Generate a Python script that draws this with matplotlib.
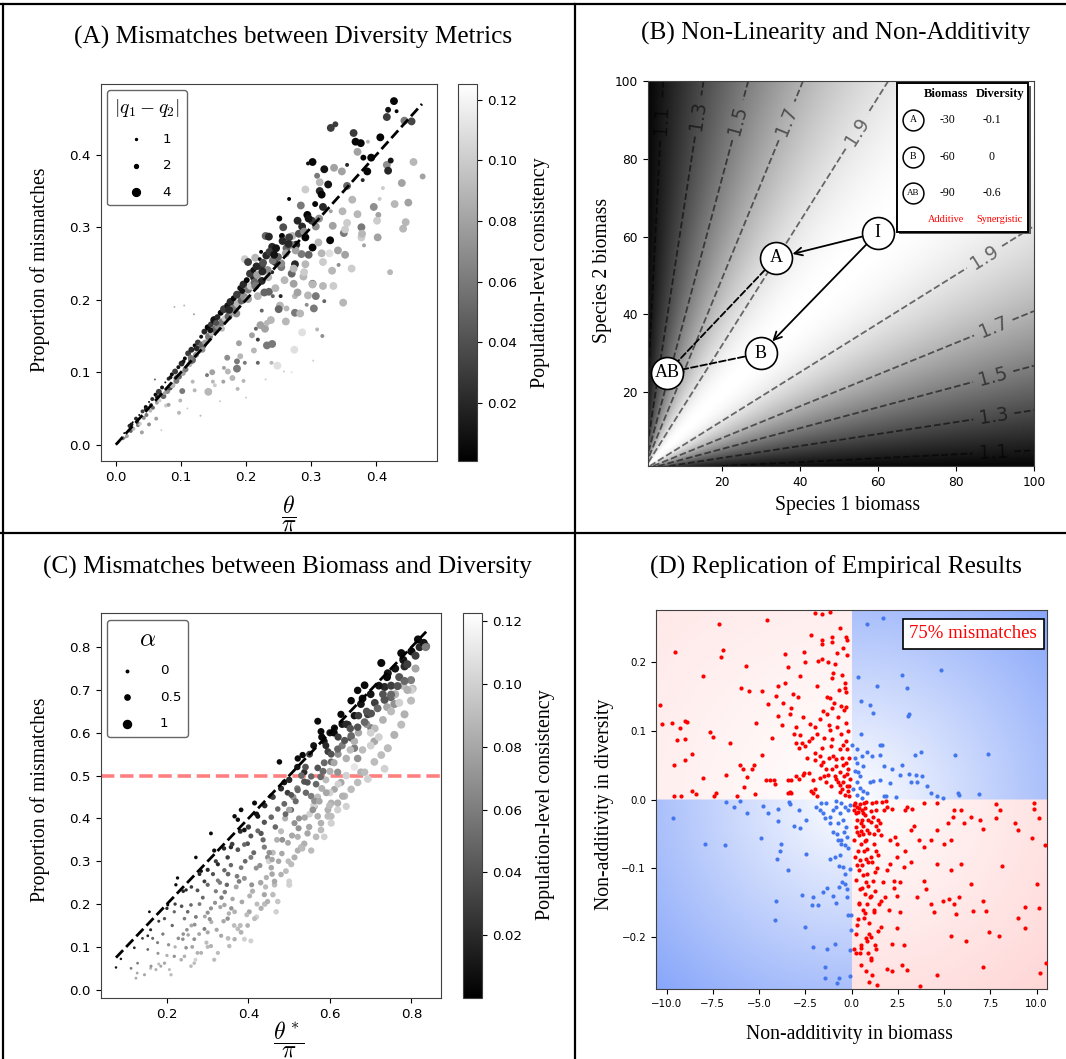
import numpy as np
import matplotlib.pyplot as plt
from matplotlib.colors import Normalize
from matplotlib.lines import Line2D
from matplotlib.patches import Rectangle

plt.rcParams['font.family'] = 'DejaVu Sans'
plt.rcParams['mathtext.fontset'] = 'cm'
plt.rcParams['axes.edgecolor'] = '0.25'
SERIF = 'Liberation Serif'

# ---------------- Panel A data: theta/pi vs proportion of mismatches ----------------
a_x = [0.427,0.418,0.431,0.416,0.443,0.454,0.330,0.337,0.365,0.368,
       0.376,0.387,0.406,0.371,0.380,0.392,0.416,0.422,0.418,0.457,
       0.471,0.386,0.302,0.295,0.320,0.335,0.347,0.355,0.379,0.309,
       0.326,0.313,0.291,0.313,0.316,0.355,0.363,0.410,0.405,0.396,
       0.449,0.348,0.403,0.445,0.441,0.266,0.284,0.306,0.294,0.251,
       0.279,0.312,0.330,0.257,0.355,0.350,0.329,0.352,0.377,0.377,
       0.381,0.402,0.230,0.235,0.255,0.271,0.277,0.291,0.302,0.316,
       0.328,0.352,0.296,0.285,0.262,0.240,0.223,0.214,0.198,0.203,
       0.224,0.245,0.254,0.275,0.291,0.270,0.240,0.259,0.273,0.288,
       0.302,0.318,0.334,0.342,0.421,0.349,0.307,0.320,0.295,0.275,
       0.293,0.304,0.275,0.283,0.252,0.253,0.235,0.245,0.224,0.212,
       0.218,0.228,0.241,0.224,0.238,0.250,0.222,0.215,0.218,0.240,
       0.232,0.286,0.309,0.317,0.274,0.303,0.248,0.239,0.258,0.218,
       0.198,0.186,0.186,0.196,0.179,0.166,0.187,0.142,0.149,0.165,
       0.140,0.118,0.099,0.097,0.102,0.077,0.062,0.040,0.051,0.090,
       0.004,0.011,0.013,0.017,0.021,0.023,0.026,0.027,0.031,0.034,
       0.036,0.037,0.041,0.043,0.046,0.047,0.051,0.053,0.056,0.057,
       0.061,0.063,0.066,0.067,0.071,0.073,0.076,0.079,0.081,0.083,
       0.086,0.087,0.091,0.093,0.096,0.097,0.101,0.103,0.106,0.107,
       0.111,0.113,0.116,0.117,0.121,0.123,0.126,0.127,0.131,0.133,
       0.136,0.137,0.141,0.143,0.146,0.147,0.151,0.153,0.156,0.157,
       0.161,0.163,0.166,0.167,0.171,0.173,0.176,0.177,0.181,0.183,
       0.186,0.187,0.191,0.193,0.196,0.197,0.201,0.203,0.206,0.207,
       0.211,0.213,0.216,0.217,0.221,0.226,0.231,0.233,0.236,0.241,
       0.246,0.249,0.256,0.261,0.266,0.269,0.281,0.286,0.289,0.301,
       0.070,0.110,0.130,0.160,0.200,0.230,0.270,0.105,0.120,0.060,
       0.015,0.024,0.033,0.046,0.054,0.063,0.075,0.084,0.093,0.104,
       0.115,0.124,0.133,0.145,0.154,0.163,0.174,0.185,0.194,0.203,
       0.214,0.225,0.234,0.243,0.254,0.265,0.276,0.296,0.307,0.318,
       0.081,0.121,0.148,0.171,0.189,0.212,0.229,0.261,0.279,0.332,
       0.302,0.318,0.341,0.362,0.378,0.401,0.428,0.439,0.371,0.352,
       0.262,0.273,0.289,0.311,0.333,0.232,0.209,0.191,0.172,0.152]
a_y = [0.474,0.462,0.460,0.452,0.447,0.446,0.437,0.442,0.430,0.418,
       0.416,0.418,0.424,0.404,0.396,0.396,0.386,0.392,0.378,0.390,
       0.370,0.377,0.390,0.388,0.380,0.382,0.377,0.386,0.365,0.371,
       0.359,0.362,0.352,0.350,0.345,0.357,0.338,0.354,0.339,0.328,
       0.334,0.322,0.317,0.307,0.298,0.339,0.330,0.332,0.317,0.312,
       0.309,0.312,0.322,0.300,0.306,0.292,0.282,0.295,0.300,0.286,
       0.275,0.286,0.288,0.287,0.288,0.288,0.276,0.286,0.272,0.264,
       0.264,0.262,0.262,0.263,0.271,0.273,0.266,0.258,0.256,0.252,
       0.247,0.252,0.245,0.249,0.249,0.236,0.238,0.227,0.243,0.232,
       0.222,0.219,0.219,0.248,0.238,0.196,0.205,0.198,0.206,0.205,
       0.193,0.188,0.182,0.181,0.192,0.205,0.211,0.216,0.226,0.231,
       0.205,0.210,0.205,0.185,0.172,0.187,0.165,0.160,0.145,0.139,
       0.137,0.155,0.159,0.150,0.131,0.116,0.109,0.113,0.101,0.113,
       0.113,0.115,0.105,0.088,0.092,0.106,0.077,0.073,0.087,0.087,
       0.096,0.087,0.061,0.044,0.074,0.054,0.036,0.017,0.028,0.190,
       0.003,0.009,0.016,0.012,0.026,0.019,0.031,0.022,0.036,0.027,
       0.041,0.029,0.046,0.037,0.052,0.041,0.059,0.047,0.063,0.051,
       0.069,0.058,0.073,0.061,0.079,0.067,0.086,0.074,0.091,0.079,
       0.097,0.082,0.101,0.088,0.107,0.094,0.112,0.099,0.119,0.104,
       0.126,0.111,0.131,0.117,0.137,0.124,0.141,0.129,0.149,0.137,
       0.156,0.141,0.162,0.149,0.166,0.154,0.172,0.159,0.176,0.164,
       0.182,0.169,0.187,0.174,0.192,0.177,0.197,0.184,0.202,0.189,
       0.207,0.194,0.216,0.199,0.221,0.204,0.227,0.214,0.236,0.219,
       0.241,0.224,0.246,0.234,0.256,0.251,0.261,0.241,0.266,0.254,
       0.271,0.259,0.281,0.264,0.286,0.276,0.291,0.301,0.294,0.309,
       0.020,0.050,0.040,0.060,0.065,0.090,0.100,0.192,0.180,0.090,
       0.010,0.028,0.031,0.049,0.055,0.066,0.071,0.093,0.092,0.115,
       0.120,0.133,0.131,0.158,0.168,0.160,0.186,0.181,0.212,0.201,
       0.219,0.239,0.231,0.262,0.250,0.277,0.268,0.312,0.301,0.328,
       0.055,0.075,0.100,0.120,0.140,0.130,0.160,0.170,0.210,0.240,
       0.221,0.252,0.268,0.243,0.291,0.309,0.332,0.361,0.318,0.297,
       0.188,0.222,0.238,0.279,0.302,0.168,0.151,0.122,0.101,0.082]
a_cons = [.004,.010,.004,.030,.060,.035,.030,.030,.030,.004,
          .004,.090,.004,.080,.004,.004,.070,.010,.020,.090,
          .080,.004,.004,.010,.010,.080,.080,.020,.020,.060,
          .010,.090,.100,.020,.004,.050,.090,.100,.100,.070,
          .080,.090,.080,.090,.090,.004,.060,.004,.004,.004,
          .020,.070,.080,.040,.100,.060,.004,.020,.060,.100,
          .080,.080,.050,.020,.004,.090,.020,.004,.004,.090,
          .110,.080,.050,.060,.050,.020,.004,.090,.100,.030,
          .030,.020,.060,.020,.090,.050,.020,.090,.090,.090,
          .060,.090,.100,.070,.090,.090,.060,.050,.090,.090,
          .070,.060,.060,.090,.090,.020,.050,.090,.020,.020,
          .090,.050,.050,.050,.090,.050,.080,.050,.030,.060,
          .060,.110,.090,.070,.110,.100,.110,.090,.100,.050,
          .060,.060,.060,.090,.090,.080,.090,.090,.090,.080,
          .060,.090,.090,.090,.060,.100,.080,.080,.070,.090,
          .030,.060,.004,.080,.020,.050,.004,.090,.020,.060,
          .004,.100,.030,.070,.004,.060,.010,.090,.020,.050,
          .004,.080,.030,.100,.010,.050,.004,.070,.020,.040,
          .004,.090,.030,.060,.010,.050,.020,.080,.004,.060,
          .030,.090,.020,.050,.004,.070,.030,.100,.010,.050,
          .020,.080,.004,.060,.030,.090,.010,.050,.020,.070,
          .004,.060,.030,.100,.010,.050,.020,.080,.004,.060,
          .030,.090,.010,.050,.020,.070,.004,.060,.030,.100,
          .010,.050,.020,.080,.004,.040,.020,.070,.030,.060,
          .010,.050,.020,.080,.030,.060,.040,.020,.070,.030,
          .100,.100,.090,.100,.100,.100,.110,.090,.080,.050,
          .070,.010,.050,.020,.060,.020,.080,.010,.060,.010,
          .060,.020,.070,.010,.040,.090,.020,.070,.010,.080,
          .060,.020,.090,.010,.070,.020,.080,.010,.070,.020,
          .080,.090,.080,.070,.080,.090,.080,.090,.080,.090,
          .090,.100,.080,.100,.090,.100,.090,.080,.090,.100,
          .090,.080,.100,.090,.080,.090,.080,.090,.090,.100]
a_q = [4,3,2,4,4,4,4,3,4,4,
       4,2,4,4,3,4,4,3,4,4,
       3,4,4,2,4,4,4,2,2,3,
       4,4,4,4,4,4,4,2,2,4,
       4,4,3,4,4,2,4,3,4,3,
       4,4,2,4,4,4,4,2,4,4,
       2,4,4,4,3,4,4,4,4,4,
       4,4,4,4,4,4,2,4,4,4,
       4,4,4,4,4,4,2,4,4,4,
       4,4,4,2,3,4,4,2,4,3,
       2,4,4,4,4,2,4,4,4,4,
       4,4,2,2,4,4,4,2,2,4,
       4,4,2,2,4,1,4,2,1,2,
       2,3,4,2,3,2,2,4,2,2,
       2,2,2,2,3,2,2,2,2,1,
       1,2,1,2,2,2,1,2,2,2,
       1,2,2,2,2,2,1,2,2,2,
       2,2,3,2,2,3,1,3,2,3,
       2,3,3,3,2,3,3,3,2,3,
       3,3,3,4,2,3,3,3,2,4,
       3,3,3,4,3,3,4,4,3,4,
       3,4,4,3,3,4,4,4,3,4,
       4,4,3,4,4,4,3,4,4,4,
       3,4,4,4,2,4,4,4,4,4,
       4,4,4,4,4,4,4,4,4,4,
       1,1,1,1,1,1,1,1,1,1,
       1,2,2,2,2,2,2,2,3,2,
       3,3,3,3,3,3,4,4,3,4,
       4,4,4,4,4,4,4,4,4,4,
       2,2,3,3,3,3,4,4,4,4,
       4,4,4,4,4,4,4,4,4,4,
       3,4,4,4,4,3,3,3,3,2]
a_legend_q = [1, 2, 4]

# ---------------- Panel B: species biomass plane ----------------
b_levels = [1.1, 1.3, 1.5, 1.7, 1.9]
b_label_pos = [(4.4, 90), (14, 91), (24, 90), (36, 90), (54, 87.5),
               (87.5, 54.4), (89.4, 37), (89.4, 24.5), (89.6, 14.6), (89.6, 5)]
b_names = ['I', 'A', 'B', 'AB']
b_s1 = [60, 34, 30, 6]
b_s2 = [61, 54.5, 30, 25]
b_table_rows = ['A', 'B', 'AB']
b_table_biomass = ['-30', '-60', '-90']
b_table_diversity = ['-0.1', '0', '-0.6']

# ---------------- Panel C data: theta*/pi vs proportion of mismatches ----------------
c_x = [0.075,0.087,0.120,0.128,0.127,0.153,0.157,0.153,0.177,0.185,
       0.206,0.202,0.226,0.222,0.247,0.251,0.239,0.243,0.267,0.275,
       0.271,0.284,0.292,0.316,0.308,0.325,0.320,0.308,0.300,0.325,
       0.341,0.349,0.357,0.366,0.374,0.382,0.390,0.398,0.406,0.382,
       0.366,0.374,0.390,0.406,0.415,0.423,0.431,0.439,0.447,0.456,
       0.464,0.472,0.468,0.476,0.456,0.488,0.496,0.505,0.513,0.521,
       0.529,0.505,0.500,0.521,0.533,0.537,0.545,0.554,0.562,0.570,
       0.578,0.586,0.595,0.603,0.611,0.570,0.578,0.586,0.595,0.603,
       0.619,0.627,0.636,0.619,0.603,0.611,0.627,0.644,0.652,0.660,
       0.668,0.676,0.652,0.668,0.685,0.676,0.693,0.701,0.709,0.726,
       0.734,0.742,0.750,0.758,0.775,0.783,0.799,0.803,0.816,0.836,
       0.56,0.58,0.59,0.60,0.61,0.62,0.63,0.64,0.65,0.66,
       0.67,0.68,0.69,0.70,0.71,0.72,0.73,0.74,0.75,0.76,
       0.77,0.78,0.79,0.80,0.81,0.82,0.83,0.835,0.81,0.80,
       0.78,0.76,0.74,0.73,0.71,0.70,0.69,0.67,0.66,0.65,
       0.64,0.63,0.62,0.61,0.60,0.59,0.58,0.57,0.56,0.55,
       0.60,0.62,0.64,0.66,0.68,0.70,0.72,0.75,0.77,0.55,
       0.54,0.53,0.52,0.51,0.50,0.49,0.48,0.47,0.46,0.45,
       0.52,0.50,0.48,0.46,0.44,0.42,0.40,0.38,0.36,0.34,
       0.32,0.30,0.28,0.26,0.24,0.22,0.20,0.18,0.16,0.14,
       0.33,0.35,0.37,0.39,0.41,0.43,0.44,0.42,0.38,0.35,
       0.28,0.30,0.26,0.24,0.22,0.20,0.18,0.16,0.30,0.27,
       0.112,0.124,0.145,0.161,0.173,0.194,0.210,0.218,0.235,0.247,
       0.259,0.267,0.284,0.292,0.308,0.316,0.333,0.349,0.353,0.366,
       0.382,0.398,0.402,0.415,0.431,0.439,0.447,0.460,0.464,0.480,
       0.492,0.500,0.513,0.521,0.537,0.545,0.554,0.566,0.578,0.595,
       0.603,0.619,0.631,0.640,0.652,0.668,0.685,0.693,0.709,0.726,
       0.734,0.742,0.758,0.775,0.783,0.799,0.790,
       0.194,0.218,0.243,0.259,0.275,0.300,0.325,0.341,0.357,0.374,
       0.390,0.406,0.423,0.439,0.456,0.472,0.488,0.505,0.521,0.537,
       0.554,0.570,0.586,0.603,0.619,0.636,0.652,0.668,0.685,0.701,
       0.717,0.734,0.750,0.766,0.783,
       0.318,0.342,0.361,0.377,0.403,0.419,0.444,0.458,0.482,0.497,
       0.523,0.538,0.562,0.577,0.252,0.268,0.293,0.309,0.331,0.352,
       0.165,0.178,0.190,0.204,0.213,0.228,0.236,0.249,0.262,0.271,
       0.279,0.288,0.297,0.305,0.313,0.322,0.334,0.339,0.347,0.358,
       0.365,0.372,0.384,0.392,0.396,0.408,0.413,0.421,0.428,0.436,
       0.442,0.451,0.458,0.466,0.474,0.483,0.491,0.498,0.507,0.516,
       0.524,0.532,0.541,0.549,0.558,0.566,0.574,0.583,0.591,0.599]
c_y = [0.052,0.072,0.098,0.062,0.039,0.126,0.182,0.094,0.110,0.055,
       0.047,0.198,0.261,0.245,0.233,0.182,0.118,0.078,0.062,0.086,
       0.309,0.277,0.253,0.325,0.365,0.293,0.230,0.190,0.134,0.086,
       0.198,0.309,0.333,0.405,0.397,0.420,0.373,0.341,0.309,0.285,
       0.182,0.142,0.118,0.114,0.436,0.405,0.365,0.333,0.309,0.285,
       0.245,0.206,0.182,0.532,0.452,0.484,0.460,0.420,0.389,0.357,
       0.333,0.293,0.245,0.540,0.548,0.508,0.484,0.452,0.428,0.405,
       0.373,0.357,0.405,0.436,0.468,0.627,0.603,0.580,0.556,0.532,
       0.508,0.484,0.452,0.420,0.389,0.611,0.643,0.619,0.588,0.564,
       0.540,0.508,0.675,0.699,0.711,0.667,0.643,0.611,0.580,0.763,
       0.707,0.739,0.683,0.667,0.786,0.755,0.723,0.703,0.818,0.802,
       0.57,0.59,0.57,0.60,0.60,0.59,0.62,0.62,0.61,0.64,
       0.64,0.68,0.65,0.69,0.67,0.71,0.69,0.73,0.71,0.75,
       0.73,0.77,0.76,0.79,0.78,0.80,0.81,0.80,0.75,0.70,
       0.71,0.69,0.66,0.63,0.61,0.60,0.62,0.60,0.58,0.56,
       0.54,0.57,0.55,0.53,0.51,0.49,0.47,0.45,0.43,0.41,
       0.46,0.48,0.50,0.52,0.56,0.57,0.59,0.65,0.67,0.55,
       0.52,0.50,0.47,0.45,0.42,0.40,0.37,0.35,0.32,0.30,
       0.52,0.49,0.47,0.45,0.43,0.41,0.38,0.37,0.34,0.33,
       0.30,0.28,0.27,0.24,0.23,0.20,0.19,0.16,0.14,0.12,
       0.25,0.27,0.24,0.26,0.23,0.25,0.20,0.17,0.15,0.12,
       0.20,0.18,0.15,0.13,0.10,0.08,0.06,0.05,0.10,0.07,
       0.050,0.027,0.035,0.055,0.047,0.062,0.035,0.078,0.070,0.098,
       0.055,0.118,0.086,0.142,0.102,0.070,0.126,0.166,0.102,0.118,
       0.134,0.150,0.182,0.166,0.190,0.222,0.206,0.222,0.253,0.269,
       0.277,0.253,0.309,0.325,0.341,0.365,0.325,0.357,0.389,0.420,
       0.405,0.436,0.452,0.428,0.468,0.484,0.508,0.492,0.532,0.548,
       0.516,0.564,0.595,0.619,0.643,0.675,0.700,
       0.166,0.182,0.166,0.198,0.232,0.245,0.255,0.279,0.291,0.327,
       0.339,0.359,0.371,0.391,0.403,0.422,0.434,0.455,0.466,0.486,
       0.498,0.518,0.530,0.550,0.562,0.582,0.593,0.613,0.625,0.645,
       0.657,0.677,0.689,0.709,0.721,
       0.203,0.228,0.212,0.253,0.219,0.284,0.262,0.304,0.318,0.343,
       0.377,0.402,0.441,0.497,0.128,0.152,0.171,0.158,0.193,0.178,
       0.120,0.085,0.130,0.105,0.150,0.120,0.195,0.140,0.100,0.170,
       0.130,0.215,0.110,0.165,0.270,0.140,0.215,0.160,0.245,0.190,
       0.150,0.265,0.205,0.300,0.175,0.245,0.320,0.200,0.290,0.350,
       0.240,0.320,0.270,0.380,0.300,0.350,0.410,0.300,0.360,0.440,
       0.400,0.330,0.460,0.380,0.420,0.480,0.440,0.510,0.460,0.430]
c_cons = [.01,.01,.02,.06,.08,.02,.005,.05,.06,.08,
          .09,.005,.005,.005,.02,.05,.07,.085,.09,.085,
          .005,.01,.03,.005,.005,.02,.06,.07,.08,.09,
          .08,.03,.02,.005,.005,.005,.01,.04,.06,.06,
          .085,.09,.10,.10,.005,.01,.04,.06,.07,.08,
          .09,.095,.10,.005,.01,.01,.03,.05,.07,.085,
          .09,.09,.10,.005,.005,.02,.04,.06,.08,.085,
          .09,.10,.09,.085,.08,.005,.005,.01,.03,.05,
          .07,.08,.09,.10,.10,.01,.005,.02,.04,.06,
          .07,.085,.005,.005,.005,.01,.03,.06,.08,.005,
          .02,.01,.05,.07,.005,.02,.06,.09,.005,.05,
          .01,.005,.02,.01,.005,.03,.01,.02,.04,.01,
          .03,.005,.04,.01,.03,.01,.04,.005,.03,.01,
          .04,.01,.03,.005,.03,.02,.01,.06,.08,.10,
          .09,.085,.08,.085,.09,.10,.07,.08,.085,.09,
          .085,.06,.07,.08,.085,.09,.085,.09,.10,.10,
          .10,.10,.10,.11,.09,.10,.10,.09,.10,.03,
          .04,.05,.06,.07,.08,.085,.09,.085,.09,.10,
          .01,.02,.02,.03,.02,.01,.03,.02,.03,.02,
          .03,.02,.02,.03,.02,.03,.02,.03,.02,.03,
          .06,.05,.08,.07,.085,.08,.09,.10,.09,.09,
          .06,.07,.08,.07,.085,.085,.09,.09,.09,.10,
          .06,.08,.08,.07,.085,.08,.09,.07,.085,.07,
          .09,.07,.085,.06,.085,.09,.08,.07,.09,.085,
          .085,.085,.08,.09,.085,.08,.085,.09,.08,.085,
          .09,.10,.085,.085,.085,.08,.09,.09,.085,.085,
          .09,.085,.085,.10,.09,.09,.09,.10,.09,.09,
          .10,.09,.085,.09,.085,.09,.085,
          .04,.05,.06,.05,.04,.05,.06,.05,.05,.04,
          .05,.04,.05,.04,.05,.05,.05,.04,.05,.04,
          .05,.04,.05,.04,.05,.04,.05,.04,.05,.04,
          .05,.04,.05,.04,.05,
          .07,.06,.08,.06,.085,.07,.085,.08,.08,.08,
          .07,.08,.07,.05,.08,.07,.08,.085,.08,.085,
          .05,.07,.06,.07,.05,.07,.04,.07,.08,.06,
          .08,.05,.09,.07,.04,.08,.06,.08,.05,.07,
          .09,.06,.08,.05,.09,.07,.05,.09,.07,.05,
          .09,.07,.08,.05,.08,.07,.05,.09,.08,.05,
          .07,.09,.05,.08,.07,.05,.08,.05,.08,.09]
c_alpha = [0,0,.05,.05,.05,.05,.05,.05,.1,.1,
           .1,.1,.15,.15,.15,.2,.2,.2,.2,.25,
           .2,.2,.25,.3,.25,.3,.3,.3,.3,.3,
           .35,.35,.35,.35,.35,.4,.4,.4,.45,.4,
           .4,.4,.45,.45,.45,.45,.5,.5,.5,.55,
           .55,.55,.55,.55,.55,.6,.6,.6,.65,.65,
           .65,.65,.65,.7,.7,.7,.7,.75,.75,.75,
           .75,.75,.8,.8,.8,.8,.8,.8,.8,.8,
           .85,.85,.85,.85,.85,.85,.85,.9,.9,.9,
           .9,.9,.9,.9,.95,.95,.95,.95,.95,1,
           1,1,1,1,1,1,1,1,1,1,
           .8,.85,.8,.85,.9,.85,.9,.9,.9,.9,
           .9,.95,.9,.95,.95,.95,.95,1,1,1,
           1,1,1,1,1,1,1,1,1,1,
           1,1,.95,.95,.95,.95,.9,.9,.9,.9,
           .9,.85,.85,.85,.85,.8,.8,.8,.8,.75,
           .85,.85,.9,.9,.9,.95,.95,1,1,.8,
           .75,.75,.7,.7,.7,.65,.65,.6,.6,.6,
           .7,.7,.65,.6,.55,.5,.5,.45,.4,.35,
           .3,.3,.25,.2,.2,.15,.15,.1,.1,.05,
           .35,.4,.45,.45,.5,.55,.55,.5,.45,.4,
           .25,.3,.25,.2,.15,.15,.1,.1,.3,.25,
           .05,.05,.1,.1,.1,.15,.15,.15,.2,.2,
           .2,.25,.25,.25,.3,.3,.3,.35,.35,.35,
           .4,.4,.45,.45,.5,.5,.5,.55,.55,.55,
           .6,.6,.65,.65,.7,.7,.7,.75,.75,.8,
           .8,.85,.85,.85,.9,.9,.9,.95,.95,.95,
           .95,1,1,1,1,1,1,
           .15,.15,.2,.2,.25,.3,.3,.35,.35,.4,
           .4,.45,.45,.5,.55,.55,.6,.6,.65,.7,
           .7,.75,.8,.8,.85,.85,.9,.9,.95,.95,
           .95,1,1,1,1,
           .3,.35,.35,.4,.45,.45,.5,.55,.55,.6,
           .65,.7,.75,.75,.2,.25,.25,.3,.3,.35,
           .1,.1,.15,.15,.15,.2,.2,.2,.25,.25,
           .25,.25,.3,.3,.3,.3,.35,.35,.35,.35,
           .4,.4,.4,.4,.45,.45,.45,.45,.5,.5,
           .5,.55,.55,.55,.55,.6,.6,.6,.65,.65,
           .65,.7,.7,.7,.75,.75,.75,.8,.8,.8]
c_legend_alpha = [0, 0.5, 1]
c_legend_labels = ['0', '0.5', '1']

# ---------------- Panel D data: non-additivity in biomass vs diversity ----------------
d_red_x = [-7.14,-4.59,-2.00,-1.60,-1.15,-9.54,-6.94,-7.03,-5.70,-8.05,
           -5.99,-5.54,-4.86,-3.95,-4.08,-3.15,-2.91,-2.20,-1.60,-1.06,
           -1.58,-1.06,-0.31,-0.27,-2.59,-3.57,-3.41,-2.50,-1.84,-1.60,
           -0.80,-0.22,-0.87,-1.06,-0.51,-0.33,-0.33,-0.31,-1.88,-1.31,
           -1.15,-1.07,-0.58,-0.29,-10.38,-10.24,-9.69,-9.29,-8.98,-8.91,
           -9.42,-9.02,-8.65,-9.02,-9.62,-7.63,-7.50,-6.59,-5.17,-4.54,
           -3.70,-3.28,-3.95,-3.35,-3.77,-3.02,-2.81,-2.99,-2.86,-2.70,
           -2.51,-2.31,-2.15,-2.26,-1.86,-1.73,-1.55,-1.24,-1.17,-0.77,
           -0.29,-1.06,-0.60,-0.46,-0.26,-1.09,-1.62,-2.00,-1.97,-1.73,
           -1.55,-1.24,-1.00,-0.82,-0.53,-0.31,-4.86,-5.26,-5.37,-6.03,
           -5.88,-5.63,-6.78,-8.01,-5.81,-5.23,-7.30,-7.45,-8.62,-8.43,
           -9.60,-9.20,-6.21,-4.61,-4.43,-4.21,-4.12,-3.41,-3.26,-3.46,
           -3.33,-3.28,-3.02,-2.82,-2.62,-2.57,-2.28,-2.19,-2.09,-1.95,
           -1.88,-1.71,-1.51,-1.37,-1.28,-1.06,-0.86,-0.91,-0.73,-0.64,
           -0.46,-0.27,-0.18,-0.15,-0.36,-0.62,-0.10,-0.40,-0.20,-0.50,
           0.31,0.44,0.68,0.79,1.12,1.33,1.66,1.85,0.12,0.24,
           0.58,0.70,1.04,1.15,1.41,1.52,1.77,1.94,0.49,0.61,
           0.86,0.97,1.31,1.43,0.30,0.15,0.50,0.67,0.78,1.22,
           1.34,1.05,0.76,0.43,0.21,0.39,0.85,1.14,0.24,0.58,
           0.70,1.03,1.25,1.58,1.79,2.28,2.46,2.28,1.91,2.09,
           2.46,2.46,2.82,2.91,3.19,3.37,3.64,3.92,4.28,4.64,
           5.01,5.37,5.19,5.46,5.92,6.10,6.47,6.92,7.10,7.83,
           7.83,8.01,8.83,9.02,9.74,9.84,9.84,10.11,10.47,3.01,
           2.91,3.28,3.92,4.64,5.56,2.19,2.37,2.09,4.64,5.37,
           5.92,3.92,3.55,4.28,4.46,4.92,5.28,5.56,5.65,5.83,
           6.47,7.10,7.29,6.56,8.11,9.38,10.02,10.11,9.02,9.38,
           7.43,7.98,6.19,5.37,4.64,7.10,10.20,10.50,3.70,1.91,
           2.19,2.73,3.01,0.79,1.04,1.12,1.40,0.49,0.52,0.76,
           0.85,0.96,1.25,1.41,0.31,0.33,0.67,0.24,0.12,0.43,
           0.88,1.06,0.61,0.84,1.21,1.49,1.02,0.39,1.34,2.46,
           2.64,2.82,0.20,0.40,0.60,0.30,0.50,0.90,1.20,0.70,
           0.35,0.55,0.90,1.40,0.45,0.80,1.20,0.95,
           -0.15,-0.25,-0.45,-0.65,-0.85,-1.10,-1.40,-1.65,-2.10,-2.40,
           -0.12,-0.30,-0.55,-0.75,-0.95,-1.30,-1.50,-2.00,-2.60,-3.10,
           -0.20,-0.40,-0.70,-1.00,-1.25,-0.45,-0.65,-2.80,-3.60,-4.30,
           0.15,0.35,0.55,0.75,1.05,1.30,1.60,0.22,0.42,0.62,
           0.85,1.10,1.45,0.30,0.60,0.90,1.25,1.70,0.40,0.70,
           1.05,1.60,2.00,2.60,3.20,0.25,0.50,0.95,2.20,4.00]
d_red_y = [0.256,0.262,0.272,0.270,0.273,0.215,0.218,0.208,0.195,0.180,
           0.163,0.158,0.158,0.165,0.151,0.153,0.150,0.240,0.233,0.237,
           0.226,0.229,0.237,0.232,0.215,0.212,0.193,0.201,0.202,0.204,
           0.213,0.211,0.197,0.177,0.181,0.170,0.162,0.156,0.165,0.150,
           0.148,0.133,0.136,0.135,0.138,0.110,0.111,0.104,0.115,0.113,
           0.087,0.088,0.067,0.057,0.051,0.099,0.091,0.083,0.111,0.139,
           0.140,0.134,0.122,0.124,0.109,0.105,0.094,0.082,0.075,0.083,
           0.078,0.086,0.090,0.110,0.096,0.117,0.129,0.108,0.102,0.105,
           0.111,0.088,0.074,0.079,0.074,0.078,0.075,0.068,0.058,0.064,
           0.055,0.061,0.063,0.059,0.061,0.054,0.065,0.051,0.045,0.051,
           0.044,0.033,0.036,0.032,0.019,0.008,0.010,0.005,0.012,0.008,
           0.006,0.005,0.005,0.028,0.028,0.028,0.023,0.029,0.028,0.010,
           0.011,0.010,0.035,0.030,0.036,0.039,0.039,0.012,0.010,0.015,
           0.005,0.032,0.034,0.025,0.036,0.044,0.049,0.034,0.026,0.022,
           0.025,0.020,0.012,0.005,0.007,0.011,0.030,0.035,0.045,0.015,
           -0.010,-0.007,-0.005,-0.003,-0.005,-0.003,-0.004,-0.002,-0.015,-0.020,
           -0.015,-0.022,-0.017,-0.025,-0.029,-0.034,-0.015,-0.010,-0.034,-0.039,
           -0.044,-0.049,-0.039,-0.044,-0.047,-0.059,-0.064,-0.074,-0.059,-0.064,
           -0.074,-0.083,-0.086,-0.088,-0.083,-0.103,-0.108,-0.118,-0.117,-0.128,
           -0.137,-0.140,-0.133,-0.147,-0.142,-0.128,-0.140,-0.118,-0.103,-0.093,
           -0.064,-0.083,-0.098,-0.074,-0.044,-0.039,-0.059,-0.069,-0.059,-0.044,
           -0.064,-0.059,-0.034,-0.025,-0.015,-0.034,-0.025,-0.029,-0.042,-0.007,
           -0.027,-0.015,-0.034,-0.044,-0.056,-0.005,-0.014,-0.027,-0.066,-0.010,
           -0.015,-0.013,-0.005,-0.005,-0.015,-0.014,-0.054,-0.059,-0.093,-0.103,
           -0.093,-0.118,-0.142,-0.152,-0.164,-0.147,-0.145,-0.152,-0.167,-0.142,
           -0.123,-0.147,-0.162,-0.162,-0.096,-0.156,-0.123,-0.157,-0.172,-0.187,
           -0.192,-0.199,-0.205,-0.199,-0.255,-0.243,-0.252,-0.238,-0.271,-0.247,
           -0.250,-0.241,-0.248,-0.250,-0.233,-0.255,-0.270,-0.211,-0.216,-0.201,
           -0.206,-0.196,-0.211,-0.191,-0.182,-0.174,-0.172,-0.223,-0.218,-0.223,
           -0.223,-0.231,-0.160,-0.152,-0.164,-0.152,-0.142,-0.152,-0.218,-0.187,
           -0.164,-0.211,-0.005,-0.012,-0.020,-0.030,-0.045,-0.030,-0.050,-0.060,
           -0.075,-0.095,-0.090,-0.100,-0.130,-0.120,-0.160,-0.180,
           0.020,0.038,0.050,0.040,0.030,0.020,0.045,0.050,0.028,0.060,
           0.060,0.085,0.095,0.120,0.140,0.125,0.090,0.105,0.120,0.095,
           0.100,0.130,0.160,0.185,0.200,0.220,0.250,0.180,0.170,0.090,
           -0.008,-0.018,-0.030,-0.012,-0.033,-0.015,-0.052,-0.040,-0.052,-0.050,
           -0.072,-0.090,-0.080,-0.095,-0.110,-0.125,-0.105,-0.120,-0.150,-0.165,
           -0.200,-0.185,-0.160,-0.120,-0.090,-0.195,-0.240,-0.265,-0.210,-0.130]
d_blue_x = [0.82,1.71,0.36,1.37,2.70,3.01,4.86,0.51,1.00,1.15,
            3.10,3.05,0.02,0.27,0.55,0.82,1.13,1.55,1.64,1.55,
            1.73,2.19,2.73,3.41,3.73,5.61,7.38,0.27,0.64,0.18,
            0.46,1.00,1.18,1.55,2.09,2.64,3.10,3.46,3.79,3.19,
            3.55,4.10,4.28,4.64,4.92,5.74,5.79,6.89,2.42,1.88,
            1.73,0.27,0.46,0.64,0.82,0.27,0.55,-6.78,-6.38,-6.01,
            -5.65,-4.79,-4.54,-3.95,-3.95,-3.37,-3.30,-2.81,-2.44,-9.65,
            -7.92,-6.83,-4.88,-3.84,-3.86,-4.03,-3.41,-2.48,-4.15,-4.06,
            -2.70,-2.53,-2.09,-2.15,-1.79,-1.55,-1.35,-1.00,-0.82,-0.67,
            -0.33,-0.27,-0.27,-0.18,-0.05,-0.05,-0.09,-1.31,-0.91,-2.09,
            -1.44,-1.46,-0.78,-0.66,-0.11,-1.91,-1.73,-1.55,-1.37,-1.18,
            -1.00,-0.82,-0.64,-0.46,-0.73,-0.55,-0.36,-0.18,-1.18,-1.46,
            -1.64,-0.82,-0.55,-0.36,-0.58,-0.73,-1.00,-0.40,-0.27,-1.18,
            -0.91,-0.67,-0.46,-0.09,-0.36,-2.82,-3.10,
            0.10,0.35,-0.10,-0.30,-0.60,0.20,-0.20,-0.80,0.50,-0.50]
d_blue_y = [0.255,0.264,0.178,0.166,0.182,0.162,0.189,0.143,0.137,0.126,
            0.124,0.121,0.080,0.074,0.063,0.069,0.063,0.079,0.080,0.065,
            0.049,0.045,0.051,0.065,0.070,0.065,0.066,0.054,0.049,0.042,
            0.034,0.025,0.027,0.029,0.024,0.036,0.037,0.036,0.034,0.025,
            0.025,0.020,0.010,0.006,0.002,0.010,0.007,0.008,0.004,0.006,
            0.005,0.025,0.017,0.012,0.010,0.007,0.003,-0.003,-0.010,-0.002,
            -0.019,-0.009,-0.019,-0.014,-0.031,-0.004,-0.006,-0.041,-0.030,-0.027,
            -0.064,-0.066,-0.056,-0.064,-0.074,-0.086,-0.103,-0.079,-0.175,-0.148,
            -0.139,-0.185,-0.142,-0.154,-0.154,-0.135,-0.129,-0.140,-0.150,-0.127,
            -0.123,-0.130,-0.141,-0.168,-0.168,-0.189,-0.219,-0.217,-0.210,-0.214,
            -0.244,-0.260,-0.267,-0.259,-0.257,-0.010,-0.015,-0.020,-0.005,-0.025,
            -0.015,-0.010,-0.020,-0.029,-0.034,-0.005,-0.010,-0.015,-0.034,-0.027,
            -0.005,-0.002,-0.059,-0.066,-0.064,-0.058,-0.047,-0.047,-0.054,-0.086,
            -0.083,-0.096,-0.098,-0.101,-0.108,-0.015,-0.039,
            0.015,0.040,-0.008,-0.040,-0.080,0.060,-0.070,-0.050,0.095,-0.120]

# ---------------- layout helpers (pixel boxes measured from the top-left) ----------------
W, H = 1066, 1059
fig = plt.figure(figsize=(W / 100, H / 100), dpi=100)


def pbox(l, t, r, b):
    return [l / W, 1 - b / H, (r - l) / W, (b - t) / H]


def ptext(x, y, s, **kw):
    return fig.text(x / W, 1 - y / H, s, ha='center', va='center', **kw)


TITLE = 18.2
LABEL = 14.2

# ================= (A) =================
axA = fig.add_axes(pbox(100.5, 83.7, 437.3, 461.4))
caxA = fig.add_axes(pbox(458, 83.7, 477, 461.4))
normA = Normalize(0.0007, 0.1253)
scA = axA.scatter(a_x, a_y, c=a_cons, s=[2 * q * q for q in a_q], cmap='gray',
                  norm=normA, linewidths=0, zorder=2)
axA.plot([0, 0.47], [0, 0.47], color='k', ls='--', lw=2, zorder=3)
axA.set_xlim(-0.0235, 0.4935)
axA.set_ylim(-0.023, 0.498)
axA.set_xticks([0, 0.1, 0.2, 0.3, 0.4])
axA.set_yticks([0, 0.1, 0.2, 0.3, 0.4])
axA.tick_params(labelsize=9.7)
hA = [axA.scatter([], [], s=2 * q * q, c='k') for q in a_legend_q]
axA.legend(hA, [str(q) for q in a_legend_q], title=r'$|q_1 - q_2|$', loc='upper left',
           fontsize=9.7, title_fontsize=14, labelspacing=1.0, handletextpad=1.0,
           borderpad=0.5, framealpha=1, edgecolor='0.4')
cbA = fig.colorbar(scA, cax=caxA)
cbA.set_ticks([0.02, 0.04, 0.06, 0.08, 0.10, 0.12])
cbA.ax.tick_params(labelsize=9.7)
ptext(292.7, 37.9, '(A) Mismatches between Diversity Metrics', family=SERIF, size=TITLE)
ptext(40, 270, 'Proportion of mismatches', family=SERIF, size=LABEL, rotation=90)
ptext(288.6, 514, r'$\dfrac{\theta}{\pi}$', size=17)
ptext(541, 273, 'Population-level consistency', family=SERIF, size=14.4, rotation=90)

# ================= (B) =================
axB = fig.add_axes(pbox(647.5, 81, 1034, 466))
g = np.linspace(1, 100, 500)
GX, GY = np.meshgrid(g, g)
div = (GX + GY) ** 2 / (GX ** 2 + GY ** 2)   # inverse Simpson index of the two species
axB.imshow(div, extent=(1, 100, 1, 100), origin='lower', cmap='gray', vmin=1, vmax=2,
           aspect='auto', zorder=0)
cs = axB.contour(GX, GY, div, levels=b_levels, colors='k', linestyles='--',
                 linewidths=1.3, alpha=0.55, zorder=1)
axB.clabel(cs, fontsize=13.5, fmt='%.1f', manual=b_label_pos, inline=True, inline_spacing=6)
axB.set_xlim(1, 100)
axB.set_ylim(1, 100)
axB.set_xticks([20, 40, 60, 80, 100])
axB.set_yticks([20, 40, 60, 80, 100])
axB.tick_params(labelsize=8.8)

pts = dict(zip(b_names, zip(b_s1, b_s2)))
arrow = dict(color='k', lw=1.3, shrinkA=12, shrinkB=12)
axB.annotate('', xy=pts['A'], xytext=pts['I'], arrowprops=dict(arrowstyle='->', mutation_scale=14, **arrow), zorder=4)
axB.annotate('', xy=pts['B'], xytext=pts['I'], arrowprops=dict(arrowstyle='->', mutation_scale=14, **arrow), zorder=4)
axB.annotate('', xy=pts['AB'], xytext=pts['A'], arrowprops=dict(arrowstyle='-', ls='--', **arrow), zorder=4)
axB.annotate('', xy=pts['AB'], xytext=pts['B'], arrowprops=dict(arrowstyle='-', ls='--', **arrow), zorder=4)
for name, x, y in zip(b_names, b_s1, b_s2):
    axB.plot(x, y, 'o', ms=23, mfc='white', mec='k', mew=1.2, zorder=5)
    axB.text(x, y, name, ha='center', va='center', family=SERIF, size=13, zorder=6)

# table inset
tb = axB.transAxes
axB.add_patch(Rectangle((0.652, 0.603), 0.339, 0.385, transform=tb, fc='0.35', ec='none',
                        zorder=7, clip_on=False))
axB.add_patch(Rectangle((0.646, 0.609), 0.339, 0.385, transform=tb, fc='white', ec='k',
                        lw=1.4, zorder=8, clip_on=False))
axB.text(0.772, 0.965, 'Biomass', transform=tb, ha='center', va='center', family=SERIF,
         weight='bold', size=9, zorder=9)
axB.text(0.912, 0.965, 'Diversity', transform=tb, ha='center', va='center', family=SERIF,
         weight='bold', size=9, zorder=9)
for i, (nm, bm, dv) in enumerate(zip(b_table_rows, b_table_biomass, b_table_diversity)):
    yy = 0.899 - i * 0.0955
    axB.plot(0.687, yy, 'o', transform=tb, ms=15, mfc='white', mec='k', mew=1.1, zorder=9,
             clip_on=False)
    axB.text(0.687, yy, nm, transform=tb, ha='center', va='center', family=SERIF,
             size=7 if len(nm) == 1 else 6.5, zorder=10)
    axB.text(0.776, yy, bm, transform=tb, ha='center', va='center', family=SERIF, size=8.5, zorder=9)
    axB.text(0.891, yy, dv, transform=tb, ha='center', va='center', family=SERIF, size=8.5, zorder=9)
axB.text(0.772, 0.641, 'Additive', transform=tb, ha='center', va='center', family=SERIF,
         size=7.4, color='red', zorder=9)
axB.text(0.910, 0.641, 'Synergistic', transform=tb, ha='center', va='center', family=SERIF,
         size=7.4, color='red', zorder=9)
ptext(835.8, 33.8, '(B) Non-Linearity and Non-Additivity', family=SERIF, size=TITLE)
ptext(847.6, 505.4, 'Species 1 biomass', family=SERIF, size=LABEL)
ptext(602.5, 270, 'Species 2 biomass', family=SERIF, size=LABEL, rotation=90)

# ================= (C) =================
axC = fig.add_axes(pbox(100.5, 613.3, 440.8, 998.3))
caxC = fig.add_axes(pbox(462.5, 613.3, 482, 998.3))
normC = Normalize(0.0, 0.1224)
csize = [(1.8 + 4.0 * a) ** 2 for a in c_alpha]
scC = axC.scatter(c_x, c_y, c=c_cons, s=csize, cmap='gray', norm=normC, linewidths=0, zorder=2)
axC.plot([0.075, 0.836], [0.075, 0.836], color='k', ls='--', lw=2, zorder=3)
axC.axhline(0.5, color='red', alpha=0.5, ls='--', lw=2.6, zorder=1)
axC.set_xlim(0.037, 0.872)
axC.set_ylim(-0.020, 0.879)
axC.set_xticks([0.2, 0.4, 0.6, 0.8])
axC.set_yticks([0, 0.1, 0.2, 0.3, 0.4, 0.5, 0.6, 0.7, 0.8])
axC.tick_params(labelsize=9.7)
hC = [axC.scatter([], [], s=(1.8 + 4.0 * a) ** 2, c='k') for a in c_legend_alpha]
axC.legend(hC, c_legend_labels, title=r'$\alpha$', loc='upper left', fontsize=9.7,
           title_fontsize=18, labelspacing=1.0, handletextpad=1.4, borderpad=0.5,
           framealpha=1, edgecolor='0.4')
cbC = fig.colorbar(scC, cax=caxC)
cbC.set_ticks([0.02, 0.04, 0.06, 0.08, 0.10, 0.12])
cbC.ax.tick_params(labelsize=9.7)
ptext(287.5, 567.9, '(C) Mismatches between Biomass and Diversity', family=SERIF, size=TITLE)
ptext(40, 800, 'Proportion of mismatches', family=SERIF, size=LABEL, rotation=90)
ptext(288.6, 1040, r'$\dfrac{\theta^*}{\pi}$', size=17)
ptext(545.5, 805, 'Population-level consistency', family=SERIF, size=14.4, rotation=90)

# ================= (D) =================
axD = fig.add_axes(pbox(655.8, 610.3, 1047.3, 989))
XL, YL = 10.58, 0.2755
xs = np.linspace(-XL, XL, 500)
ys = np.linspace(-YL, YL, 500)
XX, YY = np.meshgrid(xs, ys)
t = np.clip(np.hypot(XX / XL, YY / YL) / np.sqrt(2), 0, 1)[..., None]
blue_end = np.array([0.53, 0.65, 0.98])
red_lr = np.array([1.0, 0.84, 0.84])
red_ul = np.array([1.0, 0.91, 0.91])
red_end = np.where((XX < 0)[..., None], red_ul, red_lr)
bg = np.where((XX * YY > 0)[..., None], 1 - t * (1 - blue_end), 1 - t * (1 - red_end))
axD.imshow(bg, extent=(-XL, XL, -YL, YL), origin='lower', aspect='auto', zorder=0)
axD.scatter(d_red_x, d_red_y, s=9, c='#ff0000', linewidths=0, zorder=3)
axD.scatter(d_blue_x, d_blue_y, s=9, c='#4477ee', linewidths=0, zorder=3)
axD.set_xlim(-XL, XL)
axD.set_ylim(-YL, YL)
axD.set_xticks([-10, -7.5, -5, -2.5, 0, 2.5, 5, 7.5, 10])
axD.set_yticks([-0.2, -0.1, 0, 0.1, 0.2])
axD.tick_params(labelsize=7.4)
axD.text(0.811, 0.938, '75% mismatches', transform=axD.transAxes, ha='center', va='center',
         color='red', family=SERIF, size=13.5, zorder=5,
         bbox=dict(boxstyle='square,pad=0.35', fc='white', ec='k', lw=1.2))
ptext(836.2, 567.1, '(D) Replication of Empirical Results', family=SERIF, size=TITLE)
ptext(849, 1034.5, 'Non-additivity in biomass', family=SERIF, size=LABEL)
ptext(604, 804, 'Non-additivity in diversity', family=SERIF, size=LABEL, rotation=90)

# ================= panel frame lines =================
for (x0, y0, x1, y1) in [(0, 4, W, 4), (3, 4, 3, H), (575, 4, 575, H), (0, 533, W, 533)]:
    fig.add_artist(Line2D([x0 / W, x1 / W], [1 - y0 / H, 1 - y1 / H], color='k', lw=1.6))

fig.savefig('out.png', dpi=100)
